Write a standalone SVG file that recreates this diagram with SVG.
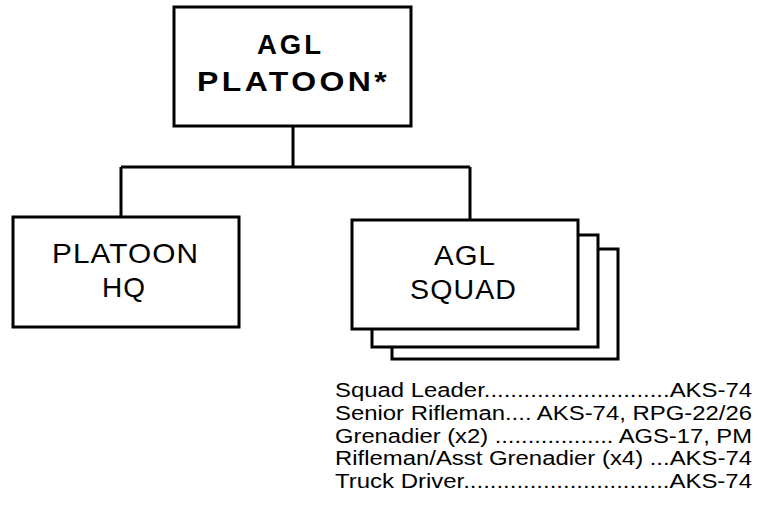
<svg xmlns="http://www.w3.org/2000/svg" width="763" height="511" viewBox="0 0 763 511">
<style>
.box{fill:#fff;stroke:#000;stroke-width:3}
.con{fill:none;stroke:#000;stroke-width:3}
.t{font-family:"Liberation Sans",Arial,Helvetica,sans-serif;fill:#000}
.b{font-weight:bold;font-size:28px;letter-spacing:3px}
.r{font-size:28px;letter-spacing:1px}
.s{font-size:27px;letter-spacing:1px}
.l{font-size:19.5px}
</style>
<rect width="763" height="511" fill="#fff"/>
<g id="connectors">
<path class="con" d="M293,126 V167 M121,167 H470 M121,167 V217 M470,167 V220"/>
</g>
<g id="agl-platoon">
<rect class="box" x="174" y="7" width="237" height="119"/>
<text class="t b" x="257" y="53.5" textLength="67" lengthAdjust="spacingAndGlyphs">AGL</text>
<text class="t b" x="197" y="91" textLength="193" lengthAdjust="spacingAndGlyphs">PLATOON*</text>
</g>
<g id="platoon-hq">
<rect class="box" x="13" y="217" width="226" height="110"/>
<text class="t r" x="52" y="263" textLength="147" lengthAdjust="spacingAndGlyphs">PLATOON</text>
<text class="t r" x="102" y="297" textLength="44" lengthAdjust="spacingAndGlyphs">HQ</text>
</g>
<g id="agl-squad">
<rect class="box" x="392" y="249" width="226" height="110"/>
<rect class="box" x="372" y="235" width="226" height="112"/>
<rect class="box" x="352" y="220" width="226" height="109"/>
<text class="t s" x="434" y="265" textLength="62" lengthAdjust="spacingAndGlyphs">AGL</text>
<text class="t s" x="410" y="299" textLength="107" lengthAdjust="spacingAndGlyphs">SQUAD</text>
</g>
<g id="squad-list">
<text class="t l" x="335" y="397" textLength="417" lengthAdjust="spacingAndGlyphs">Squad Leader............................AKS-74</text>
<text class="t l" x="335" y="420" textLength="417" lengthAdjust="spacingAndGlyphs">Senior Rifleman.... AKS-74, RPG-22/26</text>
<text class="t l" x="335" y="443" textLength="417" lengthAdjust="spacingAndGlyphs">Grenadier (x2) .................. AGS-17, PM</text>
<text class="t l" x="335" y="465" textLength="417" lengthAdjust="spacingAndGlyphs">Rifleman/Asst Grenadier (x4) ...AKS-74</text>
<text class="t l" x="335" y="488" textLength="417" lengthAdjust="spacingAndGlyphs">Truck Driver...............................AKS-74</text>
</g>
</svg>
